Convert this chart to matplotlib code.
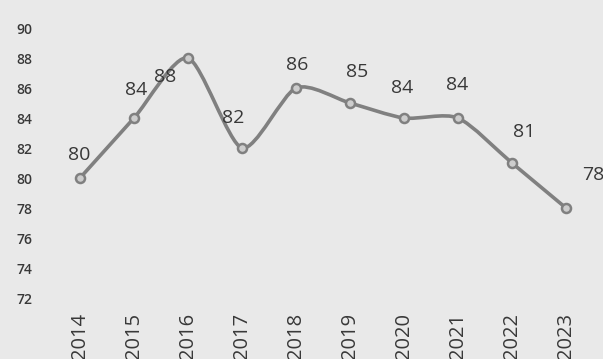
import matplotlib
matplotlib.use("Agg")
import matplotlib.pyplot as plt
from matplotlib.path import Path
from matplotlib.patches import PathPatch
import numpy as np

years = ["2014", "2015", "2016", "2017", "2018", "2019", "2020", "2021", "2022", "2023"]
values = [80, 84, 88, 82, 86, 85, 84, 84, 81, 78]
yticks = [72, 74, 76, 78, 80, 82, 84, 86, 88, 90]

# label offsets in pixels (style only)
label_offsets = [(-1, 23), (2, 28), (-23, -19), (-9, 30), (1, 23),
                 (7, 31), (-2, 30), (-1, 33), (12, 31), (27, 33)]

BG = "#e9e9e9"
TXT = "#383838"
LINE = "#808080"

fig = plt.figure(figsize=(6.03, 3.59), dpi=100, facecolor=BG)
ax = fig.add_axes([53/603, 1-313/359, 540/603, 300/359])
ax.set_facecolor(BG)

x = np.arange(len(values))
y = np.array(values, dtype=float)

# smoothed line via cubic Bezier (Catmull-Rom style control points, reduced tension)
k = 1 / 8
pts = np.column_stack([x, y])
ext = np.vstack([pts[0], pts, pts[-1]])
verts = [tuple(pts[0])]
codes = [Path.MOVETO]
for i in range(len(pts) - 1):
    p0, p1, p2, p3 = ext[i], ext[i+1], ext[i+2], ext[i+3]
    c1 = p1 + (p2 - p0) * k
    c2 = p2 - (p3 - p1) * k
    verts += [tuple(c1), tuple(c2), tuple(p2)]
    codes += [Path.CURVE4] * 3
ax.add_patch(PathPatch(Path(verts, codes), facecolor="none", edgecolor=LINE,
                       lw=2.6, capstyle="round", joinstyle="round", zorder=2))
ax.plot(x, y, linestyle="none", marker="o", ms=6.5, mfc="#cdcdcd",
        mec=LINE, mew=1.8, zorder=3)

for xi, yi, v, (dx, dy) in zip(x, y, values, label_offsets):
    ax.annotate(str(v), (xi, yi), xytext=(dx, dy), textcoords="offset pixels",
                ha="center", va="center", fontsize=14, color=TXT,
                family="Open Sans", zorder=4)

ax.set_xlim(-0.5, len(values) - 0.5)
ax.set_ylim(71, 91)
ax.set_xticks(x)
ax.set_xticklabels(years, rotation=90, fontsize=14.5, color=TXT, family="Open Sans")
ax.set_yticks(yticks)
ax.set_yticklabels([str(t) for t in yticks], fontsize=10, color=TXT,
                   family="Open Sans", fontweight="semibold")
ax.tick_params(axis="both", length=0)
ax.tick_params(axis="y", pad=15)
ax.tick_params(axis="x", pad=0)
for s in ax.spines.values():
    s.set_visible(False)

fig.savefig("out.png", dpi=100, facecolor=BG)
